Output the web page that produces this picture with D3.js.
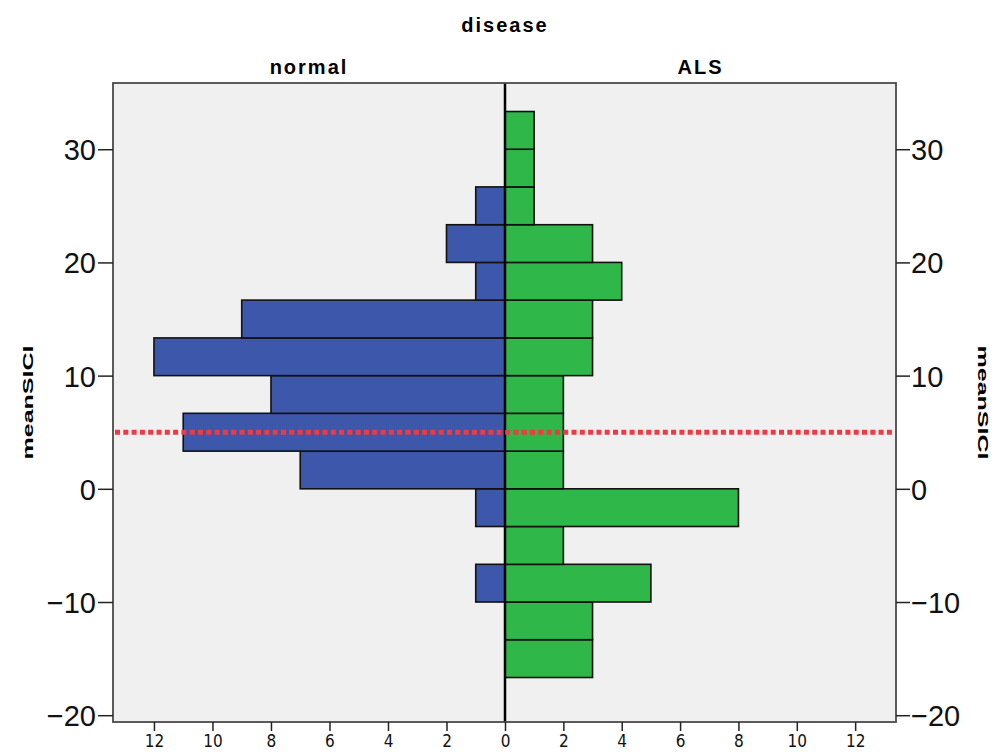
<!DOCTYPE html>
<html>
<head>
<meta charset="utf-8">
<script src="https://cdn.jsdelivr.net/npm/d3@7/dist/d3.min.js"></script>
<style>
  html, body { margin: 0; padding: 0; background: #ffffff; }
  svg { display: block; }
</style>
</head>
<body>
<svg id="chart" width="1000" height="752"></svg>
<script>
// Histogram bins of meanSICI (lower and upper edges), bottom to top
const binLow  = [-16.67, -13.33, -10, -6.67, -3.33, 0, 3.33, 6.67, 10, 13.33, 16.67, 20, 23.33, 26.67, 30];
const binHigh = [-13.33, -10, -6.67, -3.33, 0, 3.33, 6.67, 10, 13.33, 16.67, 20, 23.33, 26.67, 30, 33.33];

// Frequencies per bin for each disease group
const normalCounts = [0, 0, 1, 0, 1, 7, 11, 8, 12, 9, 1, 2, 1, 0, 0];
const alsCounts    = [3, 3, 5, 2, 8, 2, 2, 2, 3, 3, 4, 3, 1, 1, 1];

const groups = ["normal", "ALS"];
const yTicks = [-20, -10, 0, 10, 20, 30];
const xTicks = [0, 2, 4, 6, 8, 10, 12];
const refValue = 5;   // reference line on meanSICI

const W = 1000, H = 752;
const plot = { left: 113, right: 896, top: 83, bottom: 722 };
const center = 505;

const svg = d3.select("#chart");

const y = d3.scaleLinear().domain([-20.6, 35.85]).range([plot.bottom, plot.top]);
const xL = d3.scaleLinear().domain([13.4, 0]).range([plot.left, center]);
const xR = d3.scaleLinear().domain([0, 13.4]).range([center, plot.right]);

// plot background
svg.append("rect")
  .attr("x", plot.left).attr("y", plot.top)
  .attr("width", plot.right - plot.left).attr("height", plot.bottom - plot.top)
  .attr("fill", "#f0f0f0");

// bars
const bins = binLow.map((lo, i) => ({ lo, hi: binHigh[i], normal: normalCounts[i], als: alsCounts[i] }));

svg.append("g").selectAll("rect")
  .data(bins.filter(d => d.normal > 0))
  .join("rect")
  .attr("x", d => xL(d.normal))
  .attr("y", d => y(d.hi))
  .attr("width", d => center - xL(d.normal))
  .attr("height", d => y(d.lo) - y(d.hi))
  .attr("fill", "#3d58ab")
  .attr("stroke", "#111")
  .attr("stroke-width", 1.6);

svg.append("g").selectAll("rect")
  .data(bins.filter(d => d.als > 0))
  .join("rect")
  .attr("x", center)
  .attr("y", d => y(d.hi))
  .attr("width", d => xR(d.als) - center)
  .attr("height", d => y(d.lo) - y(d.hi))
  .attr("fill", "#2fb74a")
  .attr("stroke", "#111")
  .attr("stroke-width", 1.6);

// zero line between the two groups
svg.append("line")
  .attr("x1", center).attr("x2", center)
  .attr("y1", plot.top).attr("y2", plot.bottom)
  .attr("stroke", "#000").attr("stroke-width", 2.5);

// reference line
svg.append("line")
  .attr("x1", plot.left + 2).attr("x2", plot.right - 2)
  .attr("y1", y(refValue)).attr("y2", y(refValue))
  .attr("stroke", "#ef3a42")
  .attr("stroke-width", 5)
  .attr("stroke-dasharray", "5,3.3");

// plot frame
svg.append("rect")
  .attr("x", plot.left).attr("y", plot.top)
  .attr("width", plot.right - plot.left).attr("height", plot.bottom - plot.top)
  .attr("fill", "none")
  .attr("stroke", "#4a4a4a").attr("stroke-width", 1.8);

// y axes
const yFont = "'Liberation Sans', Arial, sans-serif";
const yLeft = svg.append("g")
  .attr("transform", `translate(${plot.left},0)`)
  .call(d3.axisLeft(y).tickValues(yTicks).tickSize(15).tickPadding(2).tickFormat(d3.format("d")));
const yRight = svg.append("g")
  .attr("transform", `translate(${plot.right},0)`)
  .call(d3.axisRight(y).tickValues(yTicks).tickSize(14).tickPadding(1).tickFormat(d3.format("d")));
[yLeft, yRight].forEach(g => {
  g.select(".domain").remove();
  g.selectAll(".tick line").attr("stroke", "#222").attr("stroke-width", 1.5);
  g.selectAll(".tick text")
    .attr("font-family", yFont).attr("font-size", 29).attr("fill", "#111")
    .attr("dy", "0.36em");
});

// x axes (counts grow outward from the centre)
const xFont = "'Liberation Sans Narrow', 'DejaVu Sans Condensed', 'Liberation Sans', sans-serif";
const xLeftAxis = svg.append("g")
  .attr("transform", `translate(0,${plot.bottom})`)
  .call(d3.axisBottom(xL).tickValues(xTicks).tickSize(9).tickPadding(4));
const xRightAxis = svg.append("g")
  .attr("transform", `translate(0,${plot.bottom})`)
  .call(d3.axisBottom(xR).tickValues(xTicks.filter(v => v > 0)).tickSize(9).tickPadding(4));
[xLeftAxis, xRightAxis].forEach(g => {
  g.select(".domain").remove();
  g.selectAll(".tick line").attr("stroke", "#222").attr("stroke-width", 1.5);
  g.selectAll(".tick text")
    .attr("font-family", xFont).attr("font-size", 17).attr("fill", "#111");
});

// titles
const tFont = "'Liberation Sans', Arial, sans-serif";
svg.append("text")
  .attr("x", center).attr("y", 32)
  .attr("text-anchor", "middle")
  .attr("font-family", tFont).attr("font-weight", "bold").attr("font-size", 20)
  .attr("letter-spacing", 2)
  .text("disease");

svg.append("g").selectAll("text")
  .data(groups)
  .join("text")
  .attr("x", (d, i) => i === 0 ? (plot.left + center) / 2 : (center + plot.right) / 2)
  .attr("y", 74)
  .attr("text-anchor", "middle")
  .attr("font-family", tFont).attr("font-weight", "bold").attr("font-size", 20)
  .attr("letter-spacing", 2)
  .text(d => d);

// y axis titles
const midY = (plot.top + plot.bottom) / 2;
svg.append("text")
  .attr("transform", `translate(33,${midY}) rotate(-90)`)
  .attr("text-anchor", "middle")
  .attr("font-family", tFont).attr("font-weight", "bold").attr("font-size", 15)
  .attr("textLength", 114).attr("lengthAdjust", "spacingAndGlyphs")
  .text("meanSICI");
svg.append("text")
  .attr("transform", `translate(978,${midY}) rotate(90)`)
  .attr("text-anchor", "middle")
  .attr("font-family", tFont).attr("font-weight", "bold").attr("font-size", 15)
  .attr("textLength", 114).attr("lengthAdjust", "spacingAndGlyphs")
  .text("meanSICI");
</script>
</body>
</html>
